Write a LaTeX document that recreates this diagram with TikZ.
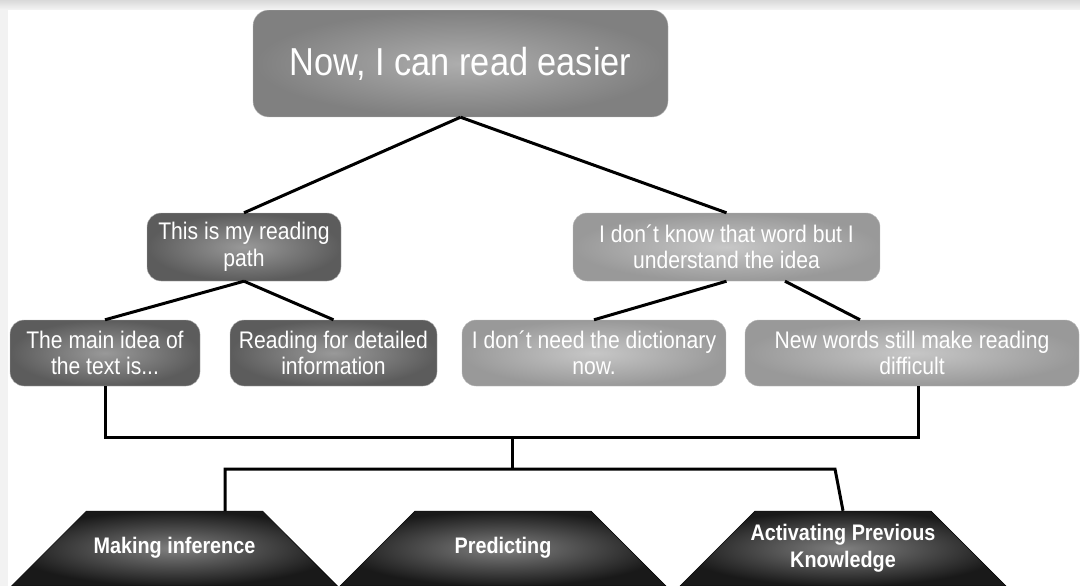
\documentclass[tikz,border=0pt]{standalone}
\usepackage{fontspec}
\setmainfont[FakeStretch=0.88]{Liberation Sans}
\usetikzlibrary{shapes}
\newcommand{\skilltext}[1]{\parbox[c][75pt][c]{176pt}{\centering
    \makebox[176pt]{\begin{tabular}{@{}c@{}}#1\end{tabular}}}}
\tikzstyle{topbox} = [rectangle, draw=gray!55, rounded corners=16pt, shading=radial,
    inner color=black!32, outer color=black!50, text=white, align=center,
    minimum height=107pt, inner sep=0pt, font=\fontsize{39}{44}\selectfont]
\tikzstyle{darkbox} = [rectangle, draw=gray!55, rounded corners=14pt, shading=radial,
    inner color=black!40, outer color=black!64, text=white, align=center,
    minimum height=66pt, inner sep=0pt, font=\fontsize{24}{26.5}\selectfont]
\tikzstyle{lightbox} = [darkbox, inner color=black!22, outer color=black!40]
\tikzstyle{skill} = [trapezium, trapezium angle=45, draw=black,
    shading=radial, inner color=black!50, outer color=black!90, text=white,
    inner sep=0pt, font=\bfseries\fontsize{22.5}{27}\selectfont]
\tikzstyle{line} = [draw, line width=3pt]

\begin{document}
\begin{tikzpicture}[x=1pt, y=-1pt, node distance=106pt]
    \useasboundingbox (0,0) rectangle (1080,586);
    % Place nodes
    \node [topbox, minimum width=415pt] (easier) at (460.5,63.5) {Now, I can read easier};
    \node [darkbox, below of=easier, node distance=183.5pt, xshift=-216.5pt,
        minimum width=194pt, minimum height=68pt] (path) {This is my reading\\path};
    \node [lightbox, below of=easier, node distance=183.5pt, xshift=266pt,
        minimum width=307pt, minimum height=68pt] (idea) {I don´t know that word but I\\understand the idea};
    \node [darkbox, below of=path, xshift=-139pt, minimum width=190pt] (mainidea) {The main idea of\\the text is...};
    \node [darkbox, below of=path, xshift=89.5pt, minimum width=207pt] (detail) {Reading for detailed\\information};
    \node [lightbox, below of=idea, xshift=-132.5pt, minimum width=264pt] (nodict) {I don´t need the dictionary\\now.};
    \node [lightbox, below of=idea, xshift=185.5pt, minimum width=334pt] (newwords) {New words still make reading\\difficult};
    \node [skill, below of=mainidea, node distance=195.5pt, xshift=69.5pt] (inference) {\skilltext{Making inference}};
    \node [skill, below of=detail, node distance=195.5pt, xshift=169.5pt] (predict) {\skilltext{Predicting}};
    \node [skill, below of=newwords, node distance=195.5pt, xshift=-69pt] (previous) {\skilltext{Activating Previous\\Knowledge}};
    \coordinate (join) at (512,437);
    \coordinate (split) at (512,469);
    \coordinate (kink) at (835,469);
    % Draw edges
    \path [line] (easier.south) -- (path.north);
    \path [line] (easier.south) -- (idea.north);
    \path [line] (path.south) -- (mainidea.north);
    \path [line] (path.south) -- (detail.north);
    \path [line] (idea.south) -- (nodict.north);
    \path [line] ([xshift=58.5pt]idea.south) -- ([xshift=-52pt]newwords.north);
    \path [line] (mainidea.south) |- (join) -| ([xshift=6pt]newwords.south);
    \path [line] (join) -- (split);
    \path [line] ([xshift=50.5pt]inference.north) |- (kink) -- (previous.north);
    % Screen edges
    \fill [top color=black!15, bottom color=black!4] (0,0) rectangle (1080,10);
    \fill [black!5] (0,10) rectangle (8,586);
\end{tikzpicture}
\end{document}
